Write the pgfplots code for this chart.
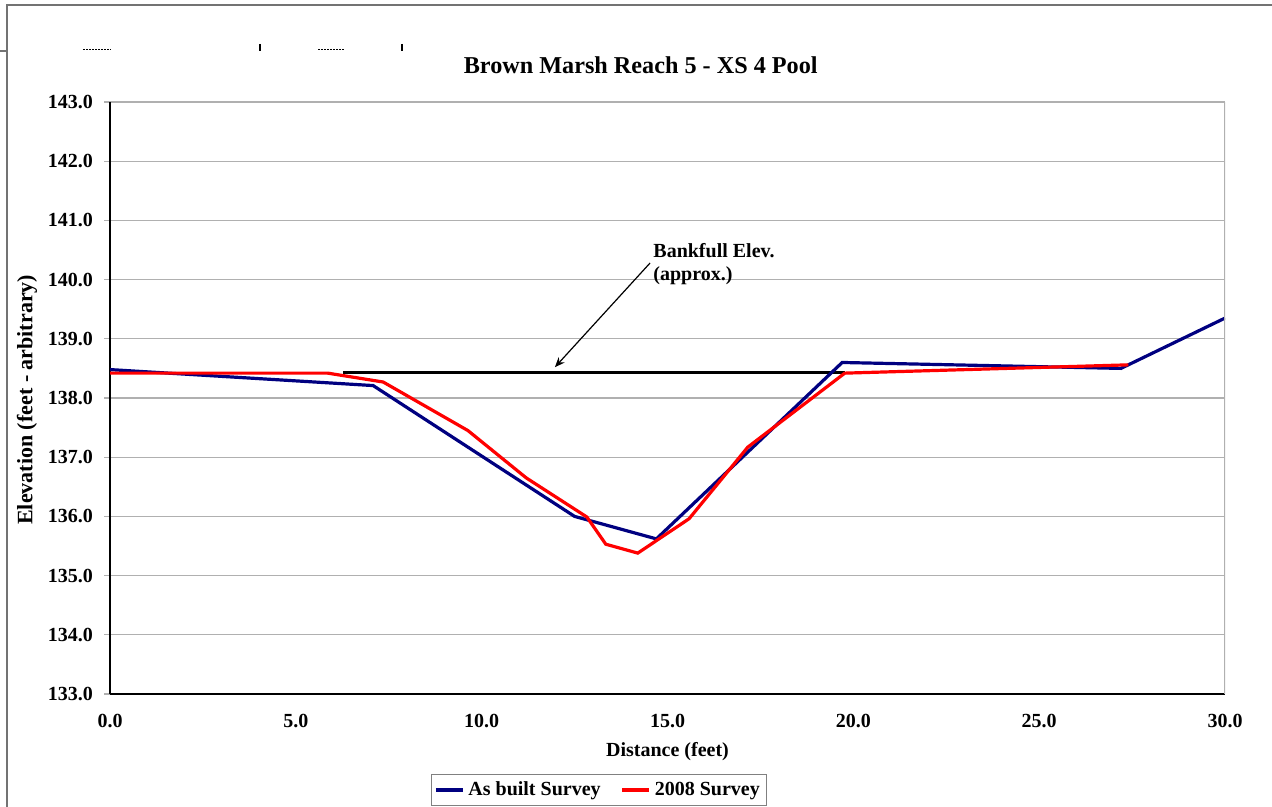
\documentclass[border=0pt]{standalone}
\usepackage{pgfplots}
\pgfplotsset{compat=1.18}
\usepackage{fontspec}
\setmainfont{Liberation Serif}
\usetikzlibrary{arrows.meta}
\definecolor{navyblue}{RGB}{0,0,128}
\definecolor{gridgray}{RGB}{176,176,176}
\begin{document}
\begin{tikzpicture}
% bounding box: 1272 x 807 px at 0.5pt/px
\path[use as bounding box] (0pt,0pt) rectangle (636pt,-403.5pt);
% outer frame and small artifacts (pixel coordinates)
\begin{scope}[x=0.5pt,y=-0.5pt]
\draw[black!55,line width=1.2pt] (7,807) -- (7,5) -- (1272,5);
\draw[black!55,line width=0.6pt] (0,51) -- (7,51);
\draw[black,line width=0.5pt,dash pattern=on 1pt off 0.5pt] (83,50) -- (111,50);
\draw[black,line width=0.5pt,dash pattern=on 1pt off 0.5pt] (318,50) -- (345,50);
\draw[black,line width=1pt] (260,44) -- (260,51);
\draw[black,line width=1pt] (402,44) -- (402,51);
\end{scope}
\begin{axis}[
  at={(55pt,-347pt)}, anchor=south west,
  scale only axis, width=557.5pt, height=296pt,
  xmin=0, xmax=30, ymin=133, ymax=143,
  xtick={0,5,...,30}, ytick={133,134,...,143},
  axis x line*=bottom, axis y line*=left,
  axis line style={black, line width=0.6pt},
  ymajorgrids, grid style={gridgray, line width=0.6pt},
  tick align=outside,
  xtick style={draw=none},
  ytick style={gridgray, line width=0.6pt},
  major tick length=3pt,
  /pgf/number format/.cd, fixed, fixed zerofill, precision=1, assume math mode=true,
  /pgfplots/.cd,
  ticklabel style={font=\bfseries\fontsize{10}{12}\selectfont},
  yticklabel style={xshift=-2pt},
  xticklabel style={yshift=-3.5pt},
  title={Brown Marsh Reach 5 - XS 4 Pool},
  title style={at={(axis description cs:0.476,1.042)}, anchor=center, font=\bfseries\fontsize{12.1}{14}\selectfont},
  xlabel={Distance (feet)},
  xlabel style={at={(axis description cs:0.5,-0.098)}, anchor=center, font=\bfseries\fontsize{10}{12}\selectfont},
  ylabel={Elevation (feet - arbitrary)},
  ylabel style={at={(axis description cs:-0.0744,0.497)}, anchor=center, rotate=0, font=\bfseries\fontsize{11}{13}\selectfont},
  legend style={at={(axis description cs:0.4386,-0.162)}, anchor=center, draw=gray, line width=0.6pt,
    font=\bfseries\fontsize{10}{12}\selectfont, inner sep=1.5pt,
    /tikz/every even column/.append style={column sep=8pt}},
  legend columns=2,
  legend image code/.code={\draw[#1] (0pt,0pt) -- (13.5pt,0pt);},
]
% bankfull elevation line
\addplot[black, line width=1.8pt, forget plot] coordinates {(6.27,138.43) (19.77,138.43)};
% as built survey
\addplot[navyblue, line width=1.6pt] coordinates {
(0,138.48) (7.08,138.21) (12.5,136.0) (14.7,135.62) (19.7,138.6) (27.2,138.5) (30,139.35)
};
\addlegendentry{As built Survey}
% 2008 survey
\addplot[red, line width=1.6pt] coordinates {
(0,138.42) (5.86,138.42) (7.35,138.27) (9.63,137.45) (11.2,136.65) (12.83,135.99) (13.34,135.53) (14.2,135.38) (15.58,135.96) (17.16,137.17) (19.77,138.42) (27.4,138.56)
};
\addlegendentry{2008 Survey}
\draw[gridgray, line width=0.8pt] (axis cs:30,133) -- (axis cs:30,143);
\draw[black, line width=0.6pt, -{Stealth[length=5pt,width=4pt]}] (axis cs:14.53,140.28) -- (axis cs:11.97,138.52);
\node[anchor=north west, inner sep=0pt, align=left, font=\bfseries\fontsize{10}{11.5}\selectfont] at (axis cs:14.61,140.61) {Bankfull Elev.\\(approx.)};
\end{axis}
\end{tikzpicture}
\end{document}
